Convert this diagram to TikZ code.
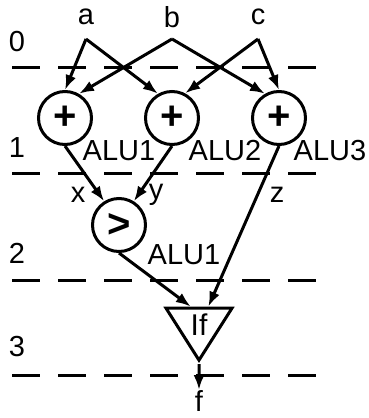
\documentclass[tikz,border=0pt]{standalone}
\usepackage{fontspec}
\setmainfont{Liberation Sans}
\usetikzlibrary{arrows.meta,shapes.geometric}

\begin{document}
\begin{tikzpicture}[
  x=1pt, y=-1pt,
  every node/.style={inner sep=0pt, font=\fontsize{29}{30}\selectfont},
  alu/.style={circle, draw, line width=3pt, minimum size=53pt, inner sep=0pt,
    font=\fontsize{40}{40}\selectfont\bfseries},
  mux/.style={isosceles triangle, isosceles triangle stretches, shape border rotate=270,
    draw, line width=3pt, minimum width=66pt, minimum height=52pt, inner sep=0pt},
  arrow/.style={draw, line width=3pt, -{Latex[length=15pt,width=11pt]}},
  stage/.style={draw, line width=3pt, dash pattern=on 28pt off 18pt}]

  \useasboundingbox (0,0) rectangle (368,418);

  % --- pipeline stage borders and their numbers ---
  \draw[stage] (12,67)  -- (317,67);
  \draw[stage] (12,173) -- (317,173);
  \draw[stage] (12,280) -- (317,280);
  \draw[stage] (12,375) -- (317,375);
  \node (s0) at (17,42)  {0};
  \node (s1) at (17,148) {1};
  \node (s2) at (17,253) {2};
  \node (s3) at (17,347) {3};

  % --- inputs, each forks into two wires ---
  \node (a) at (86,17)  {a};
  \node (b) at (172,17) {b};
  \node (c) at (258,17) {c};
  \coordinate (fa) at (86,39);
  \coordinate (fb) at (172,39);
  \coordinate (fc) at (258,39);

  % --- adders of stage 1 ---
  \node[alu] (alu1) at (65,118)  {+};
  \node[alu] (alu2) at (172,118) {+};
  \node[alu] (alu3) at (279,118) {+};
  \node (l1) at (119,151) {ALU1};
  \node (l2) at (225,151) {ALU2};
  \node (l3) at (330,151) {ALU3};

  \draw[arrow] (fa) -- (alu1.north);
  \draw[arrow] (fa) -- (alu2.120);
  \draw[arrow] (fb) -- (alu1.60);
  \draw[arrow] (fb) -- (alu3.120);
  \draw[arrow] (fc) -- (alu2.62);
  \draw[arrow] (fc) -- (alu3.north);

  % --- compare in stage 2, select in stage 3 ---
  \node[alu] (cmp) at (119,225) {>};
  \node (l4) at (184,255) {ALU1};
  \node[mux, font=\fontsize{30}{30}\selectfont] (sel) at (199,325) {If};

  \draw[arrow] (alu1.south) -- (cmp.122);
  \draw[arrow] (alu2.south) -- (cmp.58);
  \draw[arrow] (alu3.south) -- (sel.63);
  \draw[arrow] (cmp.south) -- (sel.114);
  \node (x) at (78,195)  {x};
  \node (y) at (156,195) {y};
  \node (z) at (277,195) {z};

  % --- output ---
  \coordinate (out) at (199,390);
  \draw[arrow] (sel.south) -- (out);
  \node (f) at (199,401) {f};

\end{tikzpicture}
\end{document}
